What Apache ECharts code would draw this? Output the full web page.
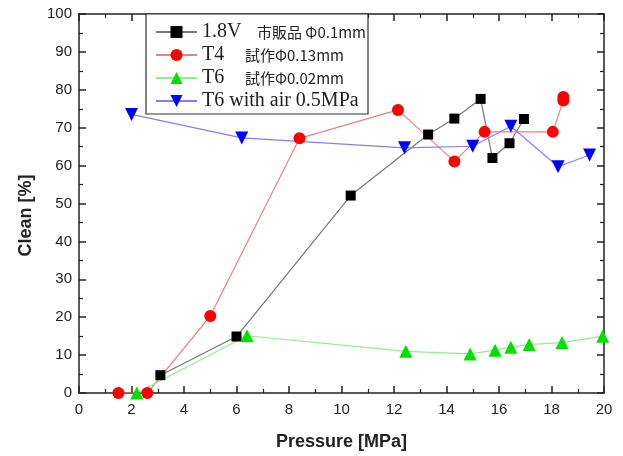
<!DOCTYPE html>
<html>
<head>
<meta charset="utf-8">
<script src="https://cdn.jsdelivr.net/npm/echarts@6/dist/echarts.min.js"></script>
<style>html,body{margin:0;padding:0;background:#fff}#c{width:623px;height:456px}</style>
</head>
<body>
<div id="c"></div>
<script>
// ---- data ----
var seriesNames = ['1.8V', 'T4', 'T6', 'T6 with air 0.5MPa'];
var seriesNotes = ['市販品 Φ0.1mm', '試作Φ0.13mm', '試作Φ0.02mm', ''];

var blackX = [3.1, 6.0, 10.35, 13.3, 14.3, 15.3, 15.75, 16.4, 16.95];
var blackY = [4.7, 14.9, 52.1, 68.2, 72.4, 77.6, 62.0, 65.9, 72.3];

var redX = [1.5, 2.6, 5.0, 8.4, 12.15, 14.3, 15.45, 18.05, 18.45, 18.45];
var redY = [0, 0, 20.3, 67.2, 74.7, 61.1, 68.9, 68.9, 77.2, 78.1];

var greenX = [2.2, 6.4, 12.45, 14.9, 15.85, 16.45, 17.15, 18.4, 19.95];
var greenY = [0, 15.1, 11.0, 10.3, 11.3, 12.1, 12.8, 13.3, 15.0];

var blueX = [2.0, 6.2, 12.4, 15.0, 16.45, 18.25, 19.45];
var blueY = [73.5, 67.3, 64.7, 65.1, 70.4, 59.7, 62.8];

var xTicks = [0, 2, 4, 6, 8, 10, 12, 14, 16, 18, 20];
var yTicks = [0, 10, 20, 30, 40, 50, 60, 70, 80, 90, 100];

function pairs(xs, ys) { return xs.map(function (x, i) { return [x, ys[i]]; }); }

var chart = echarts.init(document.getElementById('c'));
var sans = '"Liberation Sans", Arial, sans-serif';
var axisColor = '#222';

function xAxisDef(pos, labels) {
  return {
    type: 'value', position: pos, min: xTicks[0], max: xTicks[xTicks.length - 1], interval: 2,
    axisLine: { show: true, onZero: false, lineStyle: { color: axisColor, width: 1.5 } },
    axisTick: { show: true, inside: true, length: 7, lineStyle: { color: axisColor, width: 1.5 } },
    minorTick: { show: true, splitNumber: 2, length: 4, lineStyle: { color: axisColor, width: 1.2 } },
    splitLine: { show: false },
    axisLabel: { show: labels, fontSize: 15, color: axisColor, fontFamily: sans, margin: 9 },
    name: labels ? 'Pressure [MPa]' : '', nameLocation: 'middle', nameGap: 40,
    nameTextStyle: { fontSize: 18, fontWeight: 'bold', color: axisColor, fontFamily: sans }
  };
}
function yAxisDef(pos, labels) {
  return {
    type: 'value', position: pos, min: yTicks[0], max: yTicks[yTicks.length - 1], interval: 10,
    axisLine: { show: true, onZero: false, lineStyle: { color: axisColor, width: 1.5 } },
    axisTick: { show: true, inside: true, length: 7, lineStyle: { color: axisColor, width: 1.5 } },
    minorTick: { show: true, splitNumber: 2, length: 4, lineStyle: { color: axisColor, width: 1.2 } },
    splitLine: { show: false },
    axisLabel: { show: labels, fontSize: 15, color: axisColor, fontFamily: sans, margin: 7 },
    name: labels ? 'Clean [%]' : '', nameLocation: 'middle', nameGap: 44,
    nameTextStyle: { fontSize: 18, fontWeight: 'bold', color: axisColor, fontFamily: sans, padding: [0, 24, 0, 0] }
  };
}

function mk(name, data, sym, size, rot, markerColor, lineColor) {
  return {
    name: name, type: 'line', data: data, xAxisIndex: 0, yAxisIndex: 0,
    symbol: sym, symbolSize: size, symbolRotate: rot, showSymbol: true,
    itemStyle: { color: markerColor, borderColor: markerColor, borderWidth: 0, opacity: 1 },
    lineStyle: { color: lineColor, width: 1.2 },
    emphasis: { disabled: true }, animation: false
  };
}

chart.setOption({
  animation: false,
  grid: { left: 79, right: 19, top: 14, bottom: 57, containLabel: false },
  xAxis: [xAxisDef('bottom', true), xAxisDef('top', false)],
  yAxis: [yAxisDef('left', true), yAxisDef('right', false)],
  legend: {
    orient: 'vertical', left: 146, top: 14,
    padding: [8, 2, 3, 9], itemGap: 3, itemWidth: 41, itemHeight: 15,
    backgroundColor: '#fff', borderColor: '#333', borderWidth: 1.2,
    data: seriesNames,
    formatter: function (name) {
      var i = seriesNames.indexOf(name);
      var key = i === 0 ? 'n1' : (i === 3 ? 'n' : 'n2');
      var s = '{' + key + '|' + name + '}';
      if (seriesNotes[i]) s += '{j|' + seriesNotes[i] + '}';
      return s;
    },
    textStyle: {
      rich: {
        n1: { fontFamily: '"Liberation Serif", "Times New Roman", serif', fontSize: 20, color: '#222', width: 55, lineHeight: 20 },
        n2: { fontFamily: '"Liberation Serif", "Times New Roman", serif', fontSize: 20, color: '#222', width: 43, lineHeight: 20 },
        n: { fontFamily: '"Liberation Serif", "Times New Roman", serif', fontSize: 20, color: '#222', lineHeight: 20 },
        j: { fontFamily: '"Noto Sans CJK JP", sans-serif', fontSize: 15, color: '#222', lineHeight: 20 }
      }
    }
  },
  series: [
    mk(seriesNames[0], pairs(blackX, blackY), 'rect', 10, 0, '#000000', '#777777'),
    mk(seriesNames[1], pairs(redX, redY), 'circle', 12, 0, '#ff0000', '#f08080'),
    mk(seriesNames[2], pairs(greenX, greenY), 'triangle', 13, 0, '#00e000', '#90ee90'),
    mk(seriesNames[3], pairs(blueX, blueY), 'triangle', 13, 180, '#0000ff', '#8080ff')
  ]
});
</script>
</body>
</html>
